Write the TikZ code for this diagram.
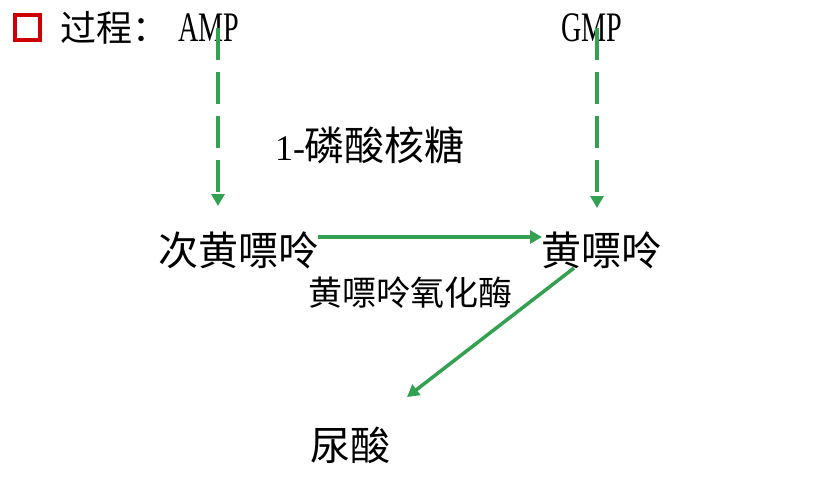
\documentclass[tikz,border=0pt]{standalone}
\usepackage{fontspec}
\setmainfont{Liberation Serif}
\newfontfamily\cjk{Noto Sans CJK SC}
\usetikzlibrary{arrows.meta}
\definecolor{arrowgreen}{RGB}{51,160,82}
\definecolor{boxred}{RGB}{204,0,0}
\tikzset{
  lbl/.style={inner sep=0pt, anchor=center, font=\fontsize{40}{44}\selectfont\cjk},
  smalllbl/.style={inner sep=0pt, anchor=center, font=\fontsize{34}{38}\selectfont\cjk},
  latinlbl/.style={inner sep=0pt, anchor=center, xscale=0.67, transform shape, font=\fontsize{42}{46}\selectfont},
  dasharrow/.style={draw=arrowgreen, line width=3.5pt, dash pattern=on 32pt off 12pt, -{Triangle[length=12pt,width=13pt]}},
  solidarrow/.style={draw=arrowgreen, line width=3.5pt, -{Triangle[length=12pt,width=13pt]}},
}
\begin{document}
\begin{tikzpicture}[x=1pt,y=-1pt]
\useasboundingbox (0,0) rectangle (816,477);
\node[draw=boxred, line width=4pt, minimum size=25pt, inner sep=0pt] (sq) at (27.5,27.5) {};
\node[inner sep=0pt, anchor=west, font=\fontsize{36}{40}\selectfont\cjk] (proc) at (60,28) {过程：};
\node[latinlbl] (amp) at (209,28) {AMP};
\node[latinlbl] (gmp) at (592,28) {GMP};
\coordinate (ampstart) at (218,28);
\coordinate (ampend) at (218,206);
\coordinate (gmpstart) at (597,28);
\coordinate (gmpend) at (597,208);
\node[lbl] (rib) at (370,145) {{\rmfamily\fontsize{36}{40}\selectfont 1-}磷酸核糖};
\node[lbl] (hx) at (238,250) {次黄嘌呤};
\node[lbl] (xa) at (601,250) {黄嘌呤};
\node[smalllbl] (xo) at (410,293) {黄嘌呤氧化酶};
\node[lbl] (ua) at (350,445) {尿酸};
\coordinate (hstart) at (318,237);
\coordinate (hend) at (542,237);
\coordinate (dstart) at (574,268);
\coordinate (dend) at (407,397);
\draw[dasharrow] (ampstart) -- (ampend);
\draw[dasharrow] (gmpstart) -- (gmpend);
\draw[solidarrow] (hstart) -- (hend);
\draw[solidarrow] (dstart) -- (dend);
\end{tikzpicture}
\end{document}
